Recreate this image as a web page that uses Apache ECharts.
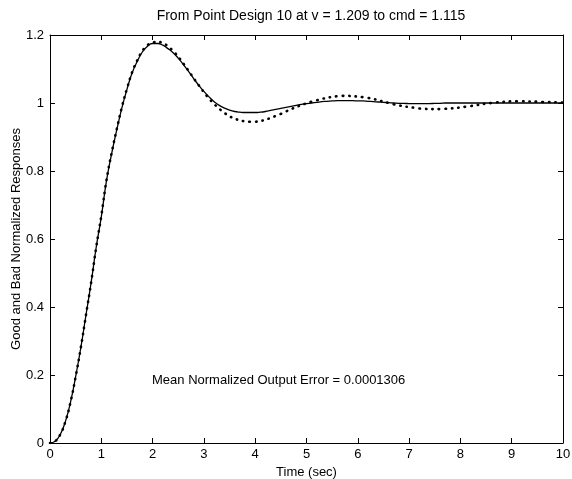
<!DOCTYPE html>
<html>
<head>
<meta charset="utf-8">
<script src="https://cdn.jsdelivr.net/npm/echarts@6/dist/echarts.min.js"></script>
<style>html,body{margin:0;padding:0;background:#fff}#c{width:572px;height:479px}</style>
</head>
<body>
<div id="c"></div>
<script>
const titleText = 'From Point Design 10 at v = 1.209 to cmd = 1.115';
const xLabel = 'Time (sec)';
const yLabel = 'Good and Bad Normalized Responses';
const noteText = 'Mean Normalized Output Error = 0.0001306';

const time = [0,0.1,0.2,0.3,0.4,0.5,0.6,0.7,0.8,0.9,1,1.1,1.2,1.3,1.4,1.5,1.6,1.7,1.8,1.9,2,2.1,2.2,2.3,2.4,2.5,2.6,2.7,2.8,2.9,3,3.1,3.2,3.3,3.4,3.5,3.6,3.7,3.8,3.9,4,4.1,4.2,4.3,4.4,4.5,4.6,4.7,4.8,4.9,5,5.1,5.2,5.3,5.4,5.5,5.6,5.7,5.8,5.9,6,6.1,6.2,6.3,6.4,6.5,6.6,6.7,6.8,6.9,7,7.1,7.2,7.3,7.4,7.5,7.6,7.7,7.8,7.9,8,8.1,8.2,8.3,8.4,8.5,8.6,8.7,8.8,8.9,9,9.1,9.2,9.3,9.4,9.5,9.6,9.7,9.8,9.9,10];

const good = [0,0.005,0.025,0.063,0.12,0.195,0.28,0.375,0.47,0.575,0.665,0.77,0.85,0.92,0.985,1.04,1.088,1.122,1.15,1.167,1.175,1.175,1.17,1.16,1.148,1.132,1.113,1.093,1.072,1.052,1.034,1.018,1.004,0.993,0.985,0.979,0.975,0.973,0.972,0.972,0.972,0.973,0.975,0.978,0.981,0.984,0.987,0.99,0.993,0.996,0.998,1.0,1.002,1.004,1.005,1.006,1.007,1.007,1.007,1.007,1.006,1.006,1.005,1.004,1.003,1.002,1.001,1.0,0.999,0.999,0.998,0.998,0.998,0.998,0.998,0.999,0.999,1.0,1.0,1.0,1.0,1.0,1.0,1.0,1.0,1.0,1.0,1.0,1.0,1.0,1.0,1.0,1.0,1.0,1.0,1.0,1.0,1.0,1.0,1.0,1.0];

const bad = [0,0.005,0.025,0.063,0.12,0.195,0.28,0.375,0.47,0.575,0.668,0.772,0.852,0.922,0.987,1.042,1.09,1.125,1.153,1.17,1.177,1.18,1.176,1.167,1.153,1.136,1.116,1.095,1.073,1.052,1.032,1.013,0.997,0.983,0.971,0.961,0.954,0.949,0.946,0.945,0.945,0.947,0.951,0.956,0.962,0.968,0.975,0.982,0.988,0.994,0.999,1.004,1.008,1.012,1.015,1.018,1.02,1.021,1.021,1.02,1.019,1.017,1.015,1.012,1.008,1.004,1.0,0.996,0.993,0.99,0.988,0.986,0.984,0.983,0.982,0.982,0.982,0.983,0.984,0.985,0.987,0.989,0.991,0.993,0.996,0.998,1.0,1.002,1.003,1.004,1.005,1.005,1.005,1.005,1.004,1.004,1.003,1.003,1.002,1.002,1.001];

const xTicks = [0,1,2,3,4,5,6,7,8,9,10];
const yTicks = [0,0.2,0.4,0.6,0.8,1,1.2];

const font = 'Liberation Sans, Arial, Helvetica, sans-serif';
const chart = echarts.init(document.getElementById('c'), null, {renderer:'canvas'});

const axisCommon = {
  axisLine:{show:true, onZero:false, lineStyle:{color:'#000', width:1}},
  axisTick:{show:true, inside:true, length:5, lineStyle:{color:'#000', width:1}},
  splitLine:{show:false}
};

chart.setOption({
  animation:false,
  backgroundColor:'#fff',
  title:[
    {text:titleText, left:306, top:4, textAlign:'center',
     textStyle:{fontFamily:font, fontSize:14, fontWeight:'normal', color:'#000'}},
    {text:noteText, left:147, top:369,
     textStyle:{fontFamily:font, fontSize:13, fontWeight:'normal', color:'#000'}}
  ],
  grid:{left:50, right:9, top:35, bottom:36, containLabel:false, outerBoundsMode:'none'},
  xAxis:[
    Object.assign({type:'value', min:xTicks[0], max:xTicks[xTicks.length-1], interval:1,
      name:xLabel, nameLocation:'middle', nameGap:22,
      nameTextStyle:{fontFamily:font, fontSize:13, color:'#000'},
      axisLabel:{fontFamily:font, fontSize:13, color:'#000', margin:5}}, axisCommon),
    Object.assign({type:'value', position:'top', min:xTicks[0], max:xTicks[xTicks.length-1], interval:1,
      axisLabel:{show:false}}, axisCommon)
  ],
  yAxis:[
    Object.assign({type:'value', min:yTicks[0], max:yTicks[yTicks.length-1], interval:0.2,
      name:yLabel, nameLocation:'middle', nameGap:27, nameMoveOverlap:false,
      nameTextStyle:{fontFamily:font, fontSize:13, color:'#000'},
      axisLabel:{fontFamily:font, fontSize:13, color:'#000', margin:6}}, axisCommon),
    Object.assign({type:'value', position:'right', min:yTicks[0], max:yTicks[yTicks.length-1], interval:0.2,
      axisLabel:{show:false}}, axisCommon)
  ],
  series:[
    {type:'line', name:'Good', data:time.map((t,i)=>[t,good[i]]), showSymbol:false, smooth:true,
     lineStyle:{color:'#000', width:1.3}},
    {type:'line', name:'Bad', data:time.map((t,i)=>[t,bad[i]]), showSymbol:false, smooth:true,
     lineStyle:{color:'#000', width:2.6, type:[0.5,6], cap:'round'}}
  ]
});
</script>
</body>
</html>
